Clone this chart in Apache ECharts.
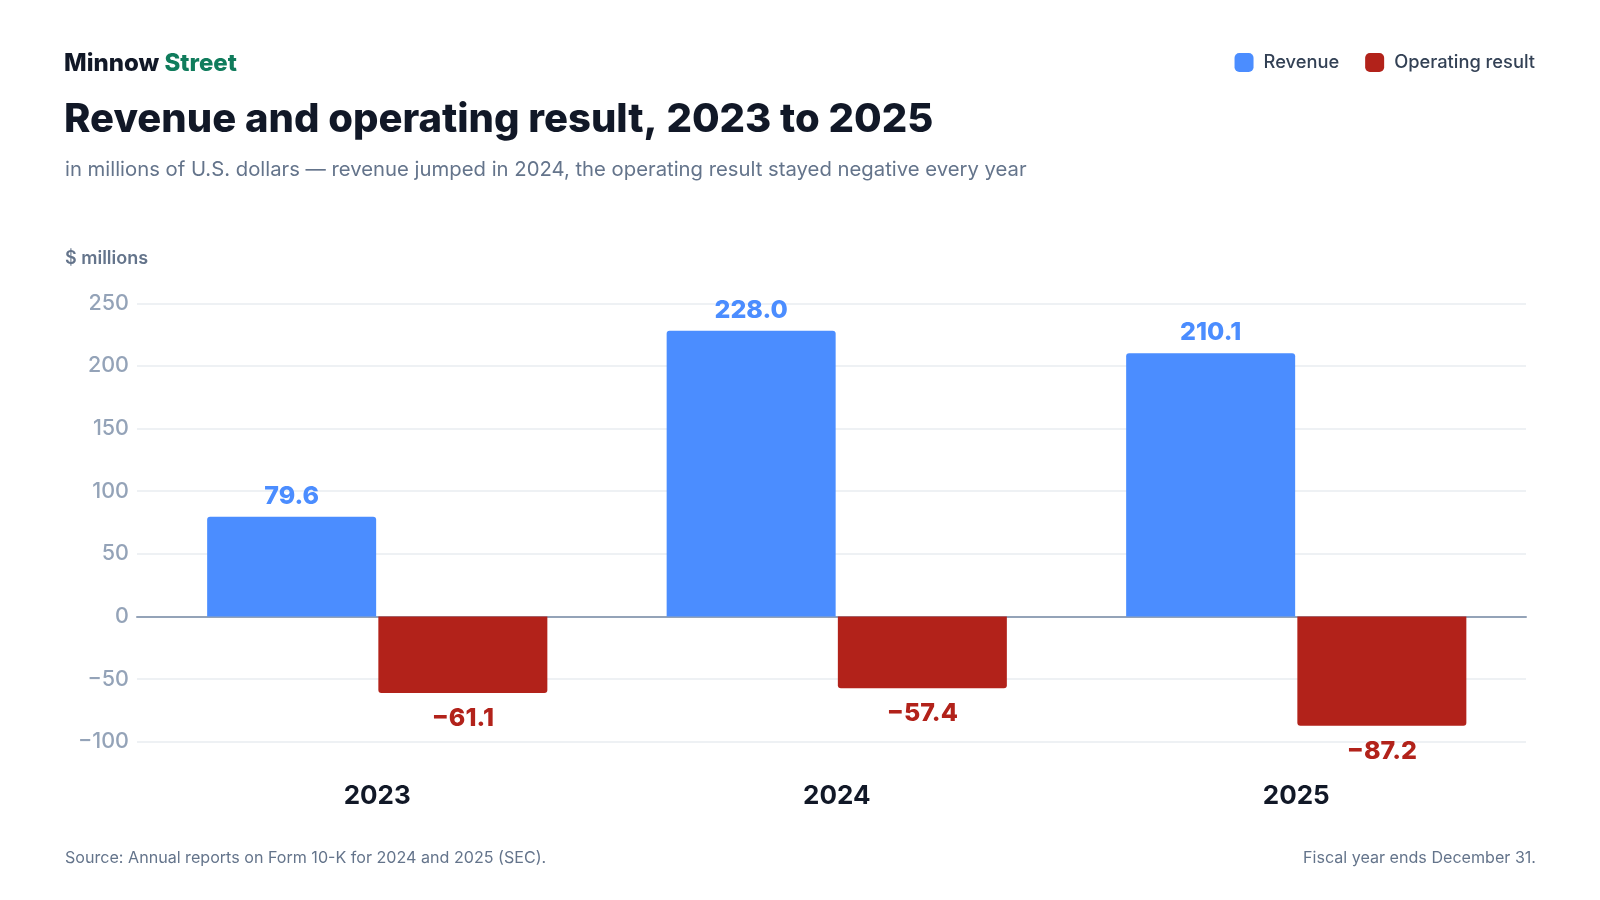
<!DOCTYPE html>
<html>
<head>
<meta charset="utf-8">
<title>Revenue and operating result, 2023 to 2025</title>
<script src="https://cdn.jsdelivr.net/npm/echarts@6/dist/echarts.min.js"></script>
<style>
  html, body { margin: 0; padding: 0; background: #ffffff; }
  #chart { width: 1600px; height: 900px; }
</style>
</head>
<body>
<div id="chart"></div>
<script>
  // data
  var years = ['2023', '2024', '2025'];
  var revenue = [79.6, 228.0, 210.1];
  var operatingResult = [-61.1, -57.4, -87.2];
  var yTicks = { min: -100, max: 250, step: 50 };

  var FONT = 'Inter, "Noto Sans", sans-serif';
  var BLUE = '#4b8dff';
  var RED = '#b2221a';

  function minus(v) {
    return String(v).replace('-', '\u2212');
  }

  var chart = echarts.init(document.getElementById('chart'));

  var gridBox = { top: 303.3, bottom: 158.3, right: 74 };

  var option = {
    animation: false,
    backgroundColor: '#ffffff',
    textStyle: { fontFamily: FONT },
    graphic: [
      {
        type: 'text', x: 64, y: 64,
        style: {
          text: '{a|Minnow }{b|Street}',
          verticalAlign: 'middle',
          rich: {
            a: { fontFamily: FONT, fontSize: 24, fontWeight: 800, fill: '#111827' },
            b: { fontFamily: FONT, fontSize: 24, fontWeight: 800, fill: '#107c5c' }
          }
        }
      },
      {
        type: 'text', x: 64, y: 120,
        style: {
          text: 'Revenue and operating result, 2023 to 2025',
          fontFamily: FONT, fontSize: 40, fontWeight: 800, fill: '#111827',
          verticalAlign: 'middle'
        }
      },
      {
        type: 'text', x: 65, y: 169.5,
        style: {
          text: 'in millions of U.S. dollars \u2014 revenue jumped in 2024, the operating result stayed negative every year',
          fontFamily: FONT, fontSize: 20.3, fill: '#64748b', verticalAlign: 'middle'
        }
      },
      {
        type: 'text', x: 65, y: 258.5,
        style: {
          text: '$ millions',
          fontFamily: FONT, fontSize: 18, fontWeight: 600, fill: '#64748b', verticalAlign: 'middle'
        }
      },
      {
        type: 'text', x: 65, y: 858,
        style: {
          text: 'Source: Annual reports on Form 10-K for 2024 and 2025 (SEC).',
          fontFamily: FONT, fontSize: 16.1, fill: '#64748b', verticalAlign: 'middle'
        }
      },
      {
        type: 'text', x: 1536, y: 858,
        style: {
          text: 'Fiscal year ends December 31.',
          fontFamily: FONT, fontSize: 16.1, fill: '#64748b', verticalAlign: 'middle', align: 'right'
        }
      }
    ],
    legend: {
      data: ['Revenue', 'Operating result'],
      right: 60, top: 48,
      icon: 'roundRect',
      itemWidth: 19, itemHeight: 19, itemGap: 26,
      textStyle: { fontFamily: FONT, fontSize: 18.3, fontWeight: 500, color: '#334155', padding: [0, 0, 0, 5] }
    },
    grid: [
      { left: 137, right: gridBox.right, top: gridBox.top, bottom: gridBox.bottom },
      { left: 147.5, right: gridBox.right, top: gridBox.top, bottom: gridBox.bottom }
    ],
    xAxis: [
      {
        gridIndex: 0, type: 'category', data: years,
        axisLine: { show: true, onZero: true, lineStyle: { color: '#94a3b8', width: 2 } },
        axisTick: { show: false }, axisLabel: { show: false }, splitLine: { show: false }
      },
      {
        gridIndex: 1, type: 'category', data: years,
        axisLine: { show: false }, axisTick: { show: false },
        axisLabel: { fontFamily: FONT, fontSize: 26, fontWeight: 700, color: '#111827', margin: 41 }
      }
    ],
    yAxis: [
      {
        gridIndex: 0, type: 'value', min: yTicks.min, max: yTicks.max, interval: yTicks.step,
        axisLine: { show: false }, axisTick: { show: false },
        axisLabel: { fontFamily: FONT, fontSize: 21.5, fontWeight: 500, color: '#94a3b8', margin: 8, formatter: minus },
        splitLine: { lineStyle: { color: '#e9ecf1', width: 1.5 } }
      },
      {
        gridIndex: 1, type: 'value', min: yTicks.min, max: yTicks.max, interval: yTicks.step,
        show: false
      }
    ],
    series: [
      {
        name: 'Revenue', type: 'bar', xAxisIndex: 1, yAxisIndex: 1,
        data: revenue, barWidth: 169, barGap: '1.3%',
        itemStyle: { color: BLUE, borderRadius: [3, 3, 0, 0] },
        label: {
          show: true, position: 'top', distance: 8,
          fontFamily: FONT, fontSize: 25, fontWeight: 800, color: BLUE,
          formatter: function (p) { return p.value.toFixed(1); }
        }
      },
      {
        name: 'Operating result', type: 'bar', xAxisIndex: 1, yAxisIndex: 1,
        data: operatingResult, barWidth: 169,
        itemStyle: { color: RED, borderRadius: [0, 0, 3, 3] },
        label: {
          show: true, position: 'bottom', distance: 13,
          fontFamily: FONT, fontSize: 25, fontWeight: 800, color: RED,
          formatter: function (p) { return minus(p.value.toFixed(1)); }
        }
      }
    ]
  };

  chart.setOption(option);
</script>
</body>
</html>
